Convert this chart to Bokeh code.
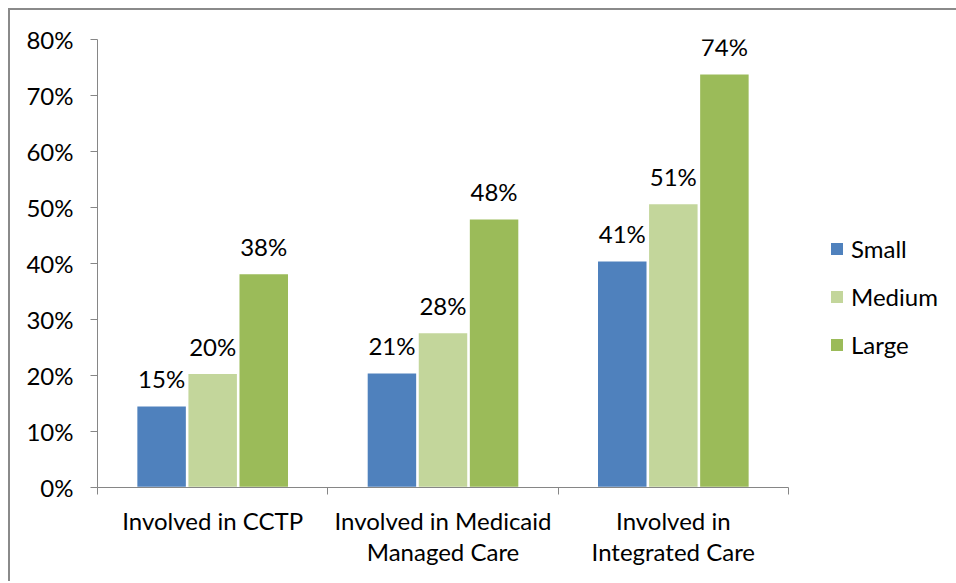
import numpy as np
from bokeh.plotting import figure
from bokeh.models import (ColumnDataSource, Range1d, FixedTicker, PrintfTickFormatter,
                          Legend, LegendItem, LabelSet)
from bokeh.core.properties import value
from bokeh.embed import file_html
from bokeh.resources import INLINE

# ---- data ----
categories = ["Involved in CCTP", "Involved in Medicaid\nManaged Care", "Involved in\nIntegrated Care"]
series_names = ["Small", "Medium", "Large"]
small = [14.6, 20.5, 40.5]
medium = [20.4, 27.7, 50.7]
large = [38.2, 48.0, 73.9]
small_labels = ["15%", "21%", "41%"]
medium_labels = ["20%", "28%", "51%"]
large_labels = ["38%", "48%", "74%"]
y_ticks = [0, 10, 20, 30, 40, 50, 60, 70, 80]

colors = ["#4F81BD", "#C3D69B", "#9BBB59"]
FONT = "Lato"
FS = "24px"

p = figure(frame_width=691, frame_height=448, output_backend="svg", toolbar_location=None,
           x_range=Range1d(0, len(categories)), y_range=Range1d(0, 80),
           min_border_left=87, min_border_right=150, min_border_top=29, min_border_bottom=94)
p.styles = {"border-left": "2px solid #8a8a8a", "border-top": "2px solid #8a8a8a",
            "margin-left": "8px", "margin-top": "8px"}
p.outline_line_color = None
p.xgrid.visible = False
p.ygrid.visible = False

bar_w = 0.217
step = 0.2217
offsets = [-step, 0.0, step]
series = [small, medium, large]
labels = [small_labels, medium_labels, large_labels]
swatches = []
nan = np.array([np.nan])
for k, (vals, labs) in enumerate(zip(series, labels)):
    xs = [i + 0.5 + offsets[k] for i in range(len(categories))]
    src = ColumnDataSource(dict(x=xs, top=vals, lab=labs))
    p.vbar(x="x", top="top", width=bar_w, bottom=0, source=src,
           fill_color=colors[k], line_color="white", line_width=1.5)
    # legend-only swatch (no visible mark in the plot)
    sw = p.quad(left=nan, right=nan, top=nan, bottom=nan, fill_color=colors[k], line_color=None)
    swatches.append(sw)
    ls = LabelSet(x="x", y="top", text="lab", source=src, text_align="center",
                  text_baseline="middle", y_offset=27, text_font=value(FONT),
                  text_font_size=value(FS), text_color="#000000")
    p.add_layout(ls)

# x axis: labels at category centers, ticks at boundaries
centers = [i + 0.5 for i in range(len(categories))]
bounds = list(range(len(categories) + 1))
p.xaxis.ticker = FixedTicker(ticks=centers, minor_ticks=bounds)
p.xaxis.major_label_overrides = {c: lab for c, lab in zip(centers, categories)}
p.xaxis.major_tick_out = 0
p.xaxis.major_tick_in = 0
p.xaxis.minor_tick_out = 7
p.xaxis.minor_tick_in = 0
p.xaxis.minor_tick_line_color = "#868686"
p.xaxis.axis_line_color = "#868686"
p.xaxis.major_label_standoff = 11
p.xaxis.major_label_text_font = FONT
p.xaxis.major_label_text_font_size = FS
p.xaxis.major_label_text_color = "#000000"
p.xaxis.major_label_text_line_height = 1.09

p.yaxis.ticker = FixedTicker(ticks=y_ticks)
p.yaxis.formatter = PrintfTickFormatter(format="%d%%")
p.yaxis.minor_tick_line_color = None
p.yaxis.major_tick_out = 7
p.yaxis.major_tick_in = 0
p.yaxis.major_tick_line_color = "#868686"
p.yaxis.axis_line_color = "#868686"
p.yaxis.major_label_standoff = 17
p.yaxis.major_label_text_font = FONT
p.yaxis.major_label_text_font_size = FS
p.yaxis.major_label_text_color = "#000000"

legend = Legend(items=[LegendItem(label=n, renderers=[r]) for n, r in zip(series_names, swatches)],
                location=(41, 128), padding=0, margin=0, spacing=19,
                glyph_width=15, glyph_height=15, label_height=29, label_standoff=7,
                border_line_color=None, background_fill_alpha=0,
                label_text_font=FONT, label_text_font_size=FS, label_text_color="#000000")
p.add_layout(legend, "right")

open("out.html", "w").write(file_html(p, INLINE))
